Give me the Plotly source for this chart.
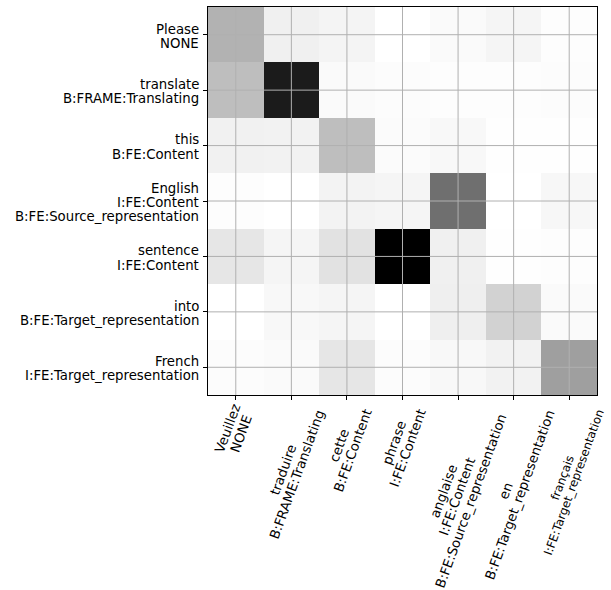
import math
import plotly.graph_objects as go

# Source tokens (rows) with their frame tags
src_labels = [
    "Please\nNONE",
    "translate\nB:FRAME:Translating",
    "this\nB:FE:Content",
    "English\nI:FE:Content\nB:FE:Source_representation",
    "sentence\nI:FE:Content",
    "into\nB:FE:Target_representation",
    "French\nI:FE:Target_representation",
]

# Target tokens (columns) with their frame tags
tgt_labels = [
    "Veuillez\nNONE",
    "traduire\nB:FRAME:Translating",
    "cette\nB:FE:Content",
    "phrase\nI:FE:Content",
    "anglaise\nI:FE:Content\nB:FE:Source_representation",
    "en\nB:FE:Target_representation",
    "français\nI:FE:Target_representation",
]

# Attention weights, one row per source token
attention = [
    [0.41, 0.125, 0.09, 0.00, 0.04, 0.08, 0.02],
    [0.37, 0.91, 0.04, 0.025, 0.02, 0.02, 0.025],
    [0.12, 0.11, 0.37, 0.03, 0.06, 0.01, 0.01],
    [0.02, 0.00, 0.10, 0.08, 0.64, 0.00, 0.07],
    [0.18, 0.08, 0.20, 1.00, 0.125, 0.01, 0.02],
    [0.00, 0.06, 0.08, 0.00, 0.13, 0.28, 0.04],
    [0.025, 0.04, 0.18, 0.025, 0.06, 0.11, 0.47],
]

greys = ["#ffffff", "#f0f0f0", "#d9d9d9", "#bdbdbd", "#969696",
         "#737373", "#525252", "#252525", "#000000"]
colorscale = [[i / (len(greys) - 1), c] for i, c in enumerate(greys)]

n_rows = len(src_labels)
n_cols = len(tgt_labels)

W, H = 611, 590
MARGIN = dict(l=208, r=14, t=7, b=195)
FONT = "DejaVu Sans"
FSIZE = 13.3
LINE = 14.4          # distance between stacked label lines, px
ANGLE = 70           # rotation of the column labels, degrees
RIGHT_LIMIT = 607    # keep rotated labels inside the page

# Approximate DejaVu Sans advance widths (em) for laying out rotated blocks
_W = {
    "P": .603, "N": .748, "O": .787, "E": .632, "B": .686, "F": .575, "R": .695,
    "A": .684, "M": .863, "T": .611, "C": .698, "I": .295, "S": .635, "V": .684,
    "a": .613, "c": .550, "d": .635, "e": .615, "f": .352, "g": .635, "h": .634,
    "i": .278, "l": .278, "n": .634, "o": .612, "p": .635, "r": .411, "s": .521,
    "t": .392, "u": .634, "z": .525, "ç": .550, ":": .337, "_": .500, " ": .318,
}


def text_width(s, size):
    return sum(_W.get(ch, .6) for ch in s) * size


fig = go.Figure(
    go.Heatmap(
        z=attention,
        x=list(range(n_cols)),
        y=list(range(n_rows)),
        colorscale=colorscale,
        zmin=0,
        zmax=1,
        showscale=False,
        hoverinfo="skip",
    )
)

# Grid lines through the cell centres, drawn over the heatmap
shapes = []
for i in range(n_cols):
    shapes.append(dict(type="line", xref="x", yref="paper", x0=i, x1=i, y0=0, y1=1,
                       line=dict(color="#b0b0b0", width=1), layer="above"))
for j in range(n_rows):
    shapes.append(dict(type="line", xref="paper", yref="y", x0=0, x1=1, y0=j, y1=j,
                       line=dict(color="#b0b0b0", width=1), layer="above"))

annotations = []

# Row labels: right-aligned lines stacked around each tick
for j, lab in enumerate(src_labels):
    lines = lab.split("\n")
    n = len(lines)
    for k, line in enumerate(lines):
        annotations.append(dict(
            x=0, xref="paper", y=j, yref="y", text=line, showarrow=False,
            xanchor="right", yanchor="middle", xshift=-7,
            yshift=-((k - (n - 1) / 2) * LINE + 1.5),
            font=dict(family=FONT, size=FSIZE, color="black"),
        ))

# Column labels: rotated blocks of centre-aligned lines hung below each tick
a = math.radians(ANGLE)
perp = (math.sin(a), math.cos(a))   # screen direction from one line to the next
TOP_GAP = 7
CX = -1.0
plot_w = W - MARGIN["l"] - MARGIN["r"]
for i, lab in enumerate(tgt_labels):
    lines = lab.split("\n")
    n = len(lines)
    size, step = FSIZE, LINE
    wmax = max(text_width(s, size) for s in lines)
    box_w = wmax * math.cos(a) + n * step * math.sin(a)
    tick_px = MARGIN["l"] + (i + 0.5) * plot_w / n_cols + CX
    if tick_px + box_w / 2 > RIGHT_LIMIT:
        s = (RIGHT_LIMIT - tick_px) / (box_w / 2)
        size, step, wmax = size * s, step * s, wmax * s
    box_h = wmax * math.sin(a) + n * step * math.cos(a)
    cy = TOP_GAP + box_h / 2
    for k, line in enumerate(lines):
        off = (k - (n - 1) / 2) * step
        annotations.append(dict(
            x=i, xref="x", y=0, yref="paper", text=line, showarrow=False,
            textangle=-ANGLE, xanchor="center", yanchor="middle",
            xshift=CX + off * perp[0], yshift=-(cy + off * perp[1]),
            font=dict(family=FONT, size=size, color="black"),
        ))

fig.update_layout(
    width=W,
    height=H,
    margin=MARGIN,
    paper_bgcolor="white",
    plot_bgcolor="white",
    font=dict(family=FONT, size=FSIZE, color="black"),
    shapes=shapes,
    annotations=annotations,
    showlegend=False,
)

fig.update_xaxes(
    range=[-0.5, n_cols - 0.5],
    tickvals=list(range(n_cols)),
    showticklabels=False,
    ticks="outside", ticklen=4, tickcolor="black", tickwidth=1,
    showgrid=False, zeroline=False,
    showline=True, linecolor="black", linewidth=1, mirror=True,
)
fig.update_yaxes(
    range=[n_rows - 0.5, -0.5],
    tickvals=list(range(n_rows)),
    showticklabels=False,
    ticks="outside", ticklen=4, tickcolor="black", tickwidth=1,
    showgrid=False, zeroline=False,
    showline=True, linecolor="black", linewidth=1, mirror=True,
)

fig.write_html("out.html")
